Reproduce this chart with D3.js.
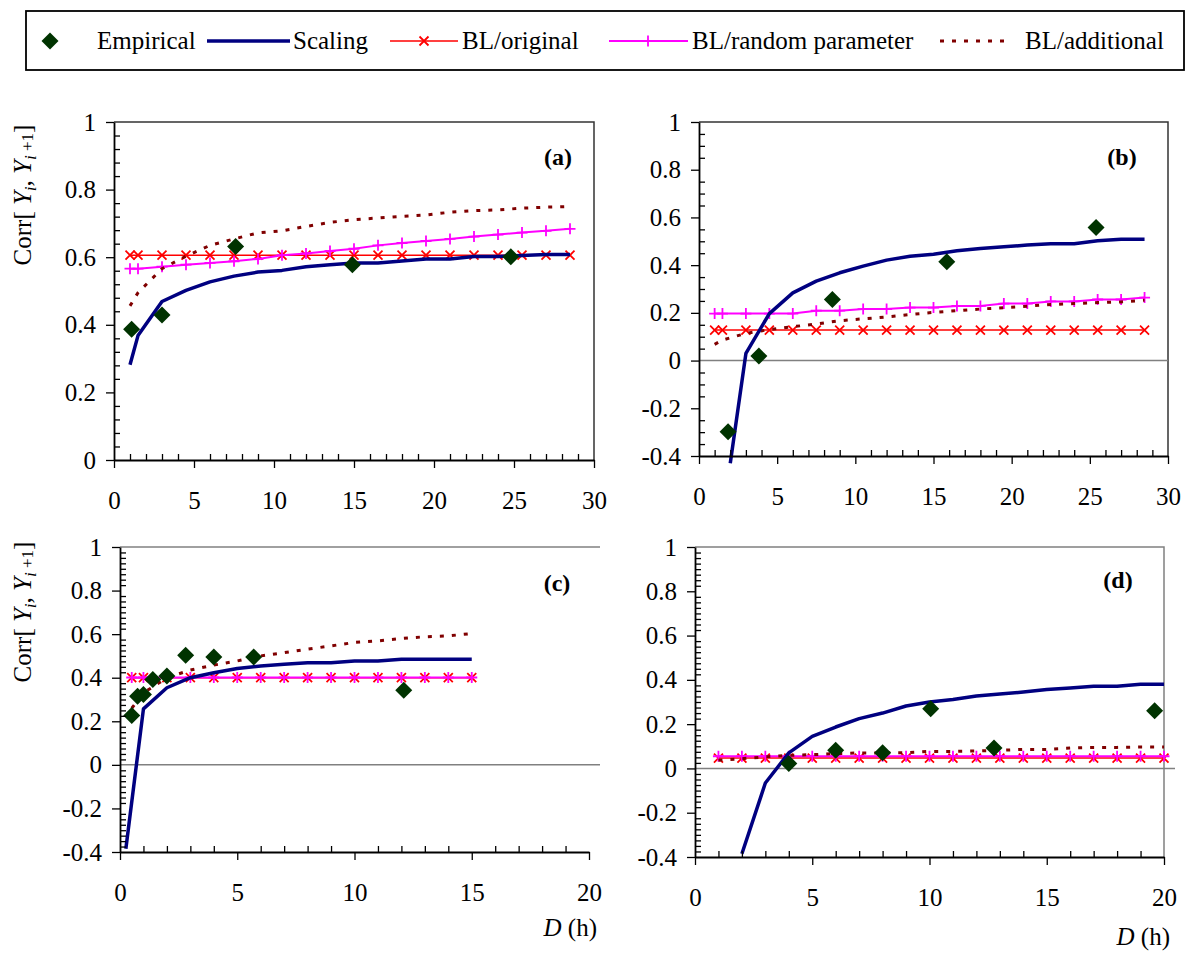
<!DOCTYPE html>
<html>
<head>
<meta charset="utf-8">
<script src="https://cdn.jsdelivr.net/npm/d3@7"></script>
<style>
body { margin: 0; background: #fff; }
svg text { font-family: "Liberation Serif", "Times New Roman", serif; }
</style>
</head>
<body>
<div id="chart"></div>
<script>
// series names (legend)
var seriesNames = ["Empirical", "Scaling", "BL/original", "BL/random parameter", "BL/additional"];

// x ticks
var xTicks30 = [0, 5, 10, 15, 20, 25, 30];
var xTicks20 = [0, 5, 10, 15, 20];
var yTicksA = [0, 0.2, 0.4, 0.6, 0.8, 1];
var yTicksB = [-0.4, -0.2, 0, 0.2, 0.4, 0.6, 0.8, 1];

// panel (a)
var empA_x = [1.1, 3, 7.6, 14.9, 24.8];
var empA_y = [0.387, 0.429, 0.632, 0.578, 0.601];
var scaleA_x = [1, 1.5, 3, 4.5, 6, 7.5, 9, 10.5, 12, 13.5, 15, 16.5, 18, 19.5, 21, 22.5, 24, 25.5, 27, 28.5];
var scaleA_y = [0.282, 0.368, 0.469, 0.502, 0.527, 0.544, 0.556, 0.561, 0.572, 0.578, 0.583, 0.583, 0.589, 0.595, 0.595, 0.602, 0.602, 0.605, 0.608, 0.608];
var blA_x = [1, 1.5, 3, 4.5, 6, 7.5, 9, 10.5, 12, 13.5, 15, 16.5, 18, 19.5, 21, 22.5, 24, 25.5, 27, 28.5];
var origA = [0.606, 0.606, 0.606, 0.606, 0.606, 0.606, 0.606, 0.606, 0.606, 0.606, 0.606, 0.606, 0.606, 0.606, 0.606, 0.606, 0.606, 0.606, 0.606, 0.606];
var randA = [0.566, 0.566, 0.572, 0.578, 0.583, 0.588, 0.595, 0.606, 0.611, 0.618, 0.625, 0.635, 0.642, 0.648, 0.654, 0.661, 0.667, 0.673, 0.678, 0.684];
var addA = [0.456, 0.495, 0.566, 0.603, 0.635, 0.654, 0.672, 0.678, 0.691, 0.703, 0.711, 0.716, 0.721, 0.725, 0.733, 0.738, 0.740, 0.745, 0.748, 0.750];

// panel (b)
var empB_x = [1.86, 3.83, 8.53, 15.85, 25.4];
var empB_y = [-0.298, 0.019, 0.256, 0.414, 0.558];
var scaleB_x = [2, 3, 4.5, 6, 7.5, 9, 10.5, 12, 13.5, 15, 16.5, 18, 19.5, 21, 22.5, 24, 25.5, 27, 28.5];
var scaleB_y = [-0.43, 0.03, 0.197, 0.284, 0.333, 0.368, 0.396, 0.421, 0.437, 0.446, 0.46, 0.47, 0.477, 0.484, 0.49, 0.49, 0.502, 0.509, 0.509];
var blB_x = [1, 1.5, 3, 4.5, 6, 7.5, 9, 10.5, 12, 13.5, 15, 16.5, 18, 19.5, 21, 22.5, 24, 25.5, 27, 28.5];
var origB = [0.128, 0.128, 0.128, 0.128, 0.128, 0.128, 0.128, 0.128, 0.128, 0.128, 0.128, 0.128, 0.128, 0.128, 0.128, 0.128, 0.128, 0.128, 0.128, 0.128];
var randB = [0.197, 0.197, 0.197, 0.197, 0.197, 0.209, 0.209, 0.216, 0.216, 0.222, 0.222, 0.229, 0.229, 0.239, 0.239, 0.248, 0.248, 0.256, 0.256, 0.264];
var addB = [0.068, 0.086, 0.114, 0.13, 0.142, 0.153, 0.167, 0.175, 0.183, 0.193, 0.202, 0.209, 0.216, 0.222, 0.228, 0.235, 0.239, 0.243, 0.246, 0.253];

// panel (c)
var empC_x = [0.5, 0.75, 1, 1.4, 2, 2.8, 4, 5.7, 12.1];
var empC_y = [0.226, 0.315, 0.323, 0.392, 0.408, 0.503, 0.495, 0.495, 0.343];
var scaleC_x = [0.25, 1, 2, 3, 4, 5, 6, 7, 8, 9, 10, 11, 12, 13, 14, 15];
var scaleC_y = [-0.385, 0.257, 0.354, 0.40, 0.423, 0.442, 0.454, 0.462, 0.469, 0.469, 0.477, 0.477, 0.485, 0.485, 0.485, 0.485];
var blC_x = [0.5, 1, 2, 3, 4, 5, 6, 7, 8, 9, 10, 11, 12, 13, 14, 15];
var origC = [0.4, 0.4, 0.4, 0.4, 0.4, 0.4, 0.4, 0.4, 0.4, 0.4, 0.4, 0.4, 0.4, 0.4, 0.4, 0.4];
var randC = [0.401, 0.401, 0.401, 0.401, 0.401, 0.401, 0.401, 0.401, 0.401, 0.401, 0.401, 0.401, 0.401, 0.401, 0.401, 0.401];
var addC = [0.26, 0.33, 0.40, 0.435, 0.458, 0.477, 0.5, 0.515, 0.531, 0.546, 0.562, 0.569, 0.58, 0.588, 0.592, 0.603];

// panel (d)
var empD_x = [4, 6, 8, 10.05, 12.75, 19.6];
var empD_y = [0.022, 0.082, 0.071, 0.27, 0.092, 0.26];
var scaleD_x = [2, 3, 4, 5, 6, 7, 8, 9, 10, 11, 12, 13, 14, 15, 16, 17, 18, 19, 20];
var scaleD_y = [-0.385, -0.066, 0.07, 0.145, 0.187, 0.225, 0.25, 0.282, 0.3, 0.311, 0.327, 0.336, 0.345, 0.356, 0.363, 0.371, 0.371, 0.38, 0.38];
var blD_x = [1, 2, 3, 4, 5, 6, 7, 8, 9, 10, 11, 12, 13, 14, 15, 16, 17, 18, 19, 20];
var origD = [0.047, 0.047, 0.047, 0.047, 0.047, 0.047, 0.047, 0.047, 0.047, 0.047, 0.047, 0.047, 0.047, 0.047, 0.047, 0.047, 0.047, 0.047, 0.047, 0.047];
var randD = [0.055, 0.055, 0.055, 0.055, 0.055, 0.055, 0.055, 0.055, 0.055, 0.055, 0.055, 0.055, 0.055, 0.055, 0.055, 0.055, 0.055, 0.055, 0.055, 0.055];
var addD = [0.037, 0.044, 0.052, 0.059, 0.062, 0.067, 0.07, 0.07, 0.071, 0.077, 0.077, 0.079, 0.082, 0.086, 0.086, 0.092, 0.095, 0.095, 0.097, 0.097];

var width = 1186;
var height = 956;
var serif = "Liberation Serif";
var colors = ["#003300", "#000080", "#ff0000", "#ff00ff", "#800000"];

var svg = d3.select("#chart").append("svg")
  .attr("width", width)
  .attr("height", height)
  .attr("font-family", serif);

function zip(xs, ys) {
  return xs.map(function(d, i) { return [d, ys[i]]; });
}

var diamond = "M0,-8.5L8.5,0L0,8.5L-8.5,0Z";
var cross = "M-4.5,-4.5L4.5,4.5M-4.5,4.5L4.5,-4.5";
var plus = "M-5.5,0H5.5M0,-5.5V5.5";

function drawPanel(p) {
  var x = d3.scaleLinear().domain(p.xDomain).range([p.left, p.right]);
  var y = d3.scaleLinear().domain(p.yDomain).range([p.bottom, p.top]);
  var g = svg.append("g");

  // frame: top line, right side only where visible
  g.append("path")
    .attr("d", p.rightSide ? "M" + p.left + "," + p.top + "H" + p.right + "V" + p.bottom
                           : "M" + p.left + "," + p.top + "H" + p.edge)
    .attr("fill", "none")
    .attr("stroke", p.frame)
    .attr("stroke-width", 1.5);

  // zero line
  if (p.yDomain[0] < 0) {
    g.append("line")
      .attr("x1", p.left).attr("x2", p.edge)
      .attr("y1", y(0)).attr("y2", y(0))
      .attr("stroke", "#808080")
      .attr("stroke-width", 1.5);
  }

  var line = d3.line()
    .x(function(d) { return x(d[0]); })
    .y(function(d) { return y(d[1]); });

  // BL/original
  var orig = zip(p.blX, p.orig);
  g.append("path").attr("d", line(orig))
    .attr("fill", "none").attr("stroke", colors[2]).attr("stroke-width", 1.5);
  g.append("g").selectAll("path").data(orig).enter().append("path")
    .attr("transform", function(d) { return "translate(" + x(d[0]) + "," + y(d[1]) + ")"; })
    .attr("d", cross).attr("stroke", colors[2]).attr("stroke-width", 1.8);

  // BL/random parameter
  var rand = zip(p.blX, p.rand);
  g.append("path").attr("d", line(rand))
    .attr("fill", "none").attr("stroke", colors[3]).attr("stroke-width", 2);
  g.append("g").selectAll("path").data(rand).enter().append("path")
    .attr("transform", function(d) { return "translate(" + x(d[0]) + "," + y(d[1]) + ")"; })
    .attr("d", plus).attr("stroke", colors[3]).attr("stroke-width", 1.8);

  // BL/additional
  g.append("path").attr("d", line(zip(p.blX, p.add)))
    .attr("fill", "none").attr("stroke", colors[4]).attr("stroke-width", 3)
    .attr("stroke-dasharray", "4,8");

  // Scaling
  g.append("path").attr("d", line(zip(p.scaleX, p.scaleY)))
    .attr("fill", "none").attr("stroke", colors[1]).attr("stroke-width", 3.5)
    .attr("stroke-linejoin", "round");

  // Empirical
  g.append("g").selectAll("path").data(zip(p.empX, p.empY)).enter().append("path")
    .attr("transform", function(d) { return "translate(" + x(d[0]) + "," + y(d[1]) + ")"; })
    .attr("d", diamond).attr("fill", colors[0]);

  // axes
  var xMinor = d3.range(p.xDomain[0], p.xDomain[1] + 0.5, 1).filter(function(v) { return v % 5 !== 0; });
  var yMinor = d3.range(0, Math.round((p.yDomain[1] - p.yDomain[0]) / p.yMinor) + 1)
    .map(function(i) { return p.yDomain[0] + i * p.yMinor; })
    .filter(function(v) { return Math.abs(v * 5 - Math.round(v * 5)) > 1e-6; });

  g.append("g")
    .attr("transform", "translate(0," + p.bottom + ")")
    .call(d3.axisBottom(x).tickValues(p.xTicks).tickSize(8).tickSizeOuter(0).tickPadding(23)
      .tickFormat(function(d) { return d; }));
  g.append("g")
    .attr("transform", "translate(0," + p.bottom + ")")
    .call(d3.axisBottom(x).tickValues(xMinor).tickSize(-6).tickFormat(""))
    .select(".domain").remove();

  g.append("g")
    .attr("transform", "translate(" + p.left + ",0)")
    .call(d3.axisLeft(y).tickValues(p.yTicks).tickSize(8).tickSizeOuter(0).tickPadding(10)
      .tickFormat(function(d) { return String(+d.toFixed(1)); }));
  g.append("g")
    .attr("transform", "translate(" + p.left + ",0)")
    .call(d3.axisLeft(y).tickValues(yMinor).tickSize(-6).tickFormat(""))
    .select(".domain").remove();

  // d3 puts sans-serif on axis groups; switch them back to the serif face
  g.selectAll("g").filter(function() { return this.hasAttribute("font-family"); })
    .attr("font-family", serif).attr("font-size", 25);
  g.selectAll(".tick line").attr("stroke", "#000").attr("stroke-width", 1.3);
  g.selectAll(".domain").attr("stroke", "#000").attr("stroke-width", 1.8);
  g.selectAll(".tick text").attr("fill", "#000");

  // panel label
  g.append("text")
    .attr("x", p.labelX).attr("y", p.labelY)
    .attr("text-anchor", "middle")
    .style("font-size", "24px").style("font-weight", "bold")
    .text(p.label);
}

drawPanel({
  left: 114, right: 594, top: 122, bottom: 460, frame: "#333", rightSide: true, edge: 594,
  xDomain: [0, 30], yDomain: [0, 1], xTicks: xTicks30, yTicks: yTicksA, yMinor: 0.04,
  empX: empA_x, empY: empA_y, scaleX: scaleA_x, scaleY: scaleA_y,
  blX: blA_x, orig: origA, rand: randA, add: addA,
  label: "(a)", labelX: 558, labelY: 165
});
drawPanel({
  left: 699, right: 1168, top: 122, bottom: 456, frame: "#333", rightSide: true, edge: 1168,
  xDomain: [0, 30], yDomain: [-0.4, 1], xTicks: xTicks30, yTicks: yTicksB, yMinor: 0.05,
  empX: empB_x, empY: empB_y, scaleX: scaleB_x, scaleY: scaleB_y,
  blX: blB_x, orig: origB, rand: randB, add: addB,
  label: "(b)", labelX: 1122, labelY: 165
});
drawPanel({
  left: 120, right: 589, top: 547, bottom: 852, frame: "#808080", rightSide: false, edge: 600,
  xDomain: [0, 20], yDomain: [-0.4, 1], xTicks: xTicks20, yTicks: yTicksB, yMinor: 0.025,
  empX: empC_x, empY: empC_y, scaleX: scaleC_x, scaleY: scaleC_y,
  blX: blC_x, orig: origC, rand: randC, add: addC,
  label: "(c)", labelX: 557, labelY: 591
});
drawPanel({
  left: 695, right: 1164, top: 547, bottom: 857, frame: "#808080", rightSide: true, edge: 1175,
  xDomain: [0, 20], yDomain: [-0.4, 1], xTicks: xTicks20, yTicks: yTicksB, yMinor: 0.025,
  empX: empD_x, empY: empD_y, scaleX: scaleD_x, scaleY: scaleD_y,
  blX: blD_x, orig: origD, rand: randD, add: addD,
  label: "(d)", labelX: 1118, labelY: 588
});

// y axis titles
function yTitle(cx, cy) {
  var t = svg.append("text")
    .attr("transform", "translate(" + cx + "," + cy + ") rotate(-90)")
    .attr("text-anchor", "middle")
    .style("font-size", "25px");
  t.append("tspan").text("Corr[ ");
  t.append("tspan").style("font-style", "italic").text("Y");
  t.append("tspan").style("font-style", "italic").style("font-size", "17px").attr("dy", 5).text("i");
  t.append("tspan").attr("dy", -5).text(",  ");
  t.append("tspan").style("font-style", "italic").text("Y");
  t.append("tspan").style("font-style", "italic").style("font-size", "17px").attr("dy", 5).text("i");
  t.append("tspan").style("font-size", "17px").attr("dy", -3).text(" +1");
  t.append("tspan").attr("dy", -2).text("]");
}
yTitle(31, 195);
yTitle(31, 612);

// x axis titles
function xTitle(rx, by) {
  var t = svg.append("text").attr("x", rx).attr("y", by)
    .attr("text-anchor", "end").style("font-size", "25px");
  t.append("tspan").style("font-style", "italic").text("D");
  t.append("tspan").text(" (h)");
}
xTitle(597, 936);
xTitle(1170, 945);

// legend
var leg = svg.append("g");
leg.append("rect")
  .attr("x", 26).attr("y", 11).attr("width", 1158).attr("height", 59)
  .attr("fill", "none").attr("stroke", "#000").attr("stroke-width", 1.8);
var ly = 41;
leg.append("path").attr("transform", "translate(50," + ly + ")").attr("d", diamond).attr("fill", colors[0]);
leg.append("line").attr("x1", 207).attr("x2", 290).attr("y1", ly).attr("y2", ly)
  .attr("stroke", colors[1]).attr("stroke-width", 3.5);
leg.append("line").attr("x1", 390).attr("x2", 458).attr("y1", ly).attr("y2", ly)
  .attr("stroke", colors[2]).attr("stroke-width", 1.5);
leg.append("path").attr("transform", "translate(424," + ly + ")").attr("d", cross)
  .attr("stroke", colors[2]).attr("stroke-width", 1.8);
leg.append("line").attr("x1", 609).attr("x2", 688).attr("y1", ly).attr("y2", ly)
  .attr("stroke", colors[3]).attr("stroke-width", 2);
leg.append("path").attr("transform", "translate(648," + ly + ")").attr("d", plus)
  .attr("stroke", colors[3]).attr("stroke-width", 1.8);
leg.append("line").attr("x1", 940).attr("x2", 1012).attr("y1", ly).attr("y2", ly)
  .attr("stroke", colors[4]).attr("stroke-width", 3).attr("stroke-dasharray", "4,8");

var legTextX = [97, 293, 462, 692, 1025];
leg.selectAll("text.lab").data(seriesNames).enter().append("text")
  .attr("class", "lab")
  .attr("x", function(d, i) { return legTextX[i]; })
  .attr("y", ly + 8)
  .style("font-size", "25px")
  .text(function(d) { return d; });
</script>
</body>
</html>
